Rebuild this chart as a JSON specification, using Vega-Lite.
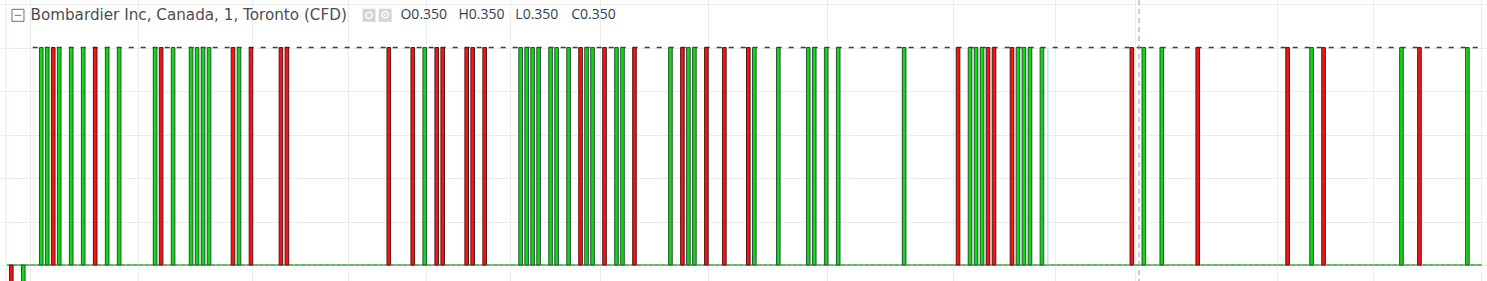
{
  "$schema": "https://vega.github.io/schema/vega-lite/v6.json",
  "width": 1487,
  "height": 281,
  "autosize": "none",
  "padding": 0,
  "background": "#ffffff",
  "config": {"view": {"stroke": null}},
  "datasets": {
    "candles": [
      {"t": 0, "o": 0.345, "c": 0.340}, {"t": 2, "o": 0.340, "c": 0.345},
      {"t": 5, "o": 0.345, "c": 0.35}, {"t": 6, "o": 0.345, "c": 0.35}, {"t": 7, "o": 0.35, "c": 0.345}, {"t": 8, "o": 0.345, "c": 0.35},
      {"t": 10, "o": 0.345, "c": 0.35}, {"t": 12, "o": 0.345, "c": 0.35}, {"t": 14, "o": 0.35, "c": 0.345}, {"t": 16, "o": 0.345, "c": 0.35},
      {"t": 18, "o": 0.345, "c": 0.35}, {"t": 24, "o": 0.345, "c": 0.35}, {"t": 25, "o": 0.35, "c": 0.345}, {"t": 27, "o": 0.345, "c": 0.35},
      {"t": 30, "o": 0.345, "c": 0.35}, {"t": 31, "o": 0.345, "c": 0.35}, {"t": 32, "o": 0.345, "c": 0.35}, {"t": 33, "o": 0.345, "c": 0.35},
      {"t": 37, "o": 0.35, "c": 0.345}, {"t": 38, "o": 0.345, "c": 0.35}, {"t": 40, "o": 0.35, "c": 0.345}, {"t": 45, "o": 0.35, "c": 0.345},
      {"t": 46, "o": 0.35, "c": 0.345}, {"t": 63, "o": 0.35, "c": 0.345}, {"t": 67, "o": 0.35, "c": 0.345}, {"t": 69, "o": 0.345, "c": 0.35},
      {"t": 71, "o": 0.35, "c": 0.345}, {"t": 72, "o": 0.35, "c": 0.345}, {"t": 76, "o": 0.35, "c": 0.345}, {"t": 77, "o": 0.35, "c": 0.345},
      {"t": 79, "o": 0.35, "c": 0.345}, {"t": 85, "o": 0.345, "c": 0.35}, {"t": 86, "o": 0.345, "c": 0.35}, {"t": 87, "o": 0.345, "c": 0.35},
      {"t": 88, "o": 0.345, "c": 0.35}, {"t": 90, "o": 0.345, "c": 0.35}, {"t": 91, "o": 0.345, "c": 0.35}, {"t": 93, "o": 0.345, "c": 0.35},
      {"t": 95, "o": 0.35, "c": 0.345}, {"t": 96, "o": 0.345, "c": 0.35}, {"t": 97, "o": 0.345, "c": 0.35}, {"t": 99, "o": 0.35, "c": 0.345},
      {"t": 101, "o": 0.345, "c": 0.35}, {"t": 102, "o": 0.345, "c": 0.35}, {"t": 104, "o": 0.35, "c": 0.345}, {"t": 110, "o": 0.345, "c": 0.35},
      {"t": 112, "o": 0.35, "c": 0.345}, {"t": 113, "o": 0.345, "c": 0.35}, {"t": 114, "o": 0.345, "c": 0.35}, {"t": 116, "o": 0.35, "c": 0.345},
      {"t": 119, "o": 0.35, "c": 0.345}, {"t": 123, "o": 0.35, "c": 0.345}, {"t": 124, "o": 0.345, "c": 0.35}, {"t": 128, "o": 0.345, "c": 0.35},
      {"t": 133, "o": 0.345, "c": 0.35}, {"t": 134, "o": 0.345, "c": 0.35}, {"t": 136, "o": 0.345, "c": 0.35}, {"t": 138, "o": 0.345, "c": 0.35},
      {"t": 149, "o": 0.345, "c": 0.35}, {"t": 158, "o": 0.35, "c": 0.345}, {"t": 160, "o": 0.345, "c": 0.35}, {"t": 161, "o": 0.345, "c": 0.35},
      {"t": 162, "o": 0.345, "c": 0.35}, {"t": 163, "o": 0.35, "c": 0.345}, {"t": 164, "o": 0.35, "c": 0.345}, {"t": 167, "o": 0.35, "c": 0.345},
      {"t": 168, "o": 0.345, "c": 0.35}, {"t": 169, "o": 0.345, "c": 0.35}, {"t": 170, "o": 0.345, "c": 0.35}, {"t": 172, "o": 0.345, "c": 0.35},
      {"t": 187, "o": 0.35, "c": 0.345}, {"t": 189, "o": 0.345, "c": 0.35}, {"t": 192, "o": 0.345, "c": 0.35}, {"t": 198, "o": 0.35, "c": 0.345},
      {"t": 213, "o": 0.35, "c": 0.345}, {"t": 217, "o": 0.345, "c": 0.35}, {"t": 219, "o": 0.35, "c": 0.345}, {"t": 232, "o": 0.345, "c": 0.35},
      {"t": 235, "o": 0.35, "c": 0.345}, {"t": 243, "o": 0.345, "c": 0.35}
    ]
  },
  "layer": [
    {
      "data": {"values": [{}]},
      "mark": {"type": "rect", "color": "#f1f4f9"},
      "encoding": {
        "x": {"datum": -1.05, "type": "quantitative", "scale": {"domain": [-1.05, 245.44], "nice": false, "zero": false},
              "axis": {"values": [3.2, 21.17, 40.25, 56.17, 69.15, 83.17, 98.2, 116.25, 136.2, 157.18, 174.2, 187.45, 211.18, 227.18, 245.28],
                       "grid": true, "gridColor": "#ececec", "labels": false, "ticks": false, "domain": false, "title": null}},
        "x2": {"datum": -0.7167},
        "y": {"datum": 0.3446322, "type": "quantitative", "scale": {"domain": [0.3446322, 0.351092], "nice": false, "zero": false},
              "axis": {"values": [0.345, 0.346, 0.347, 0.348, 0.349, 0.35, 0.351], "grid": true, "gridColor": "#ececec", "labels": false, "ticks": false, "domain": false, "title": null}},
        "y2": {"datum": 0.351092}
      }
    },
    {
      "data": {"values": [{}]},
      "mark": {"type": "rule", "color": "#3e6a48", "strokeWidth": 1},
      "encoding": {
        "x": {"datum": -0.7167, "type": "quantitative"},
        "x2": {"datum": 245.44},
        "y": {"datum": 0.345, "type": "quantitative"}
      }
    },
    {
      "data": {"values": [{}]},
      "mark": {"type": "rule", "color": "#1ecb1e", "strokeWidth": 1.2, "strokeDash": [4, 2]},
      "encoding": {
        "x": {"datum": -0.7167, "type": "quantitative"},
        "x2": {"datum": 245.44},
        "y": {"datum": 0.345, "type": "quantitative"}
      }
    },
    {
      "data": {"values": [{}]},
      "mark": {"type": "rule", "color": "#1f4f35", "strokeWidth": 1.3, "strokeDash": [5, 7]},
      "encoding": {
        "x": {"datum": 3.567, "type": "quantitative"},
        "x2": {"datum": 245.44},
        "y": {"datum": 0.35, "type": "quantitative"}
      }
    },
    {
      "data": {"values": [{}]},
      "mark": {"type": "rule", "color": "#a9d4d8", "strokeWidth": 1},
      "encoding": {
        "x": {"datum": 173, "type": "quantitative"},
        "y": {"datum": 0.345, "type": "quantitative"},
        "y2": {"datum": 0.35}
      }
    },
    {
      "data": {"name": "candles"},
      "mark": {"type": "bar", "size": 3.6, "strokeWidth": 1, "clip": true},
      "encoding": {
        "x": {"field": "t", "type": "quantitative"},
        "y": {"field": "o", "type": "quantitative"},
        "y2": {"field": "c"},
        "fill": {"condition": {"test": "datum.c > datum.o", "value": "#12d812"}, "value": "#f91212"},
        "stroke": {"condition": {"test": "datum.c > datum.o", "value": "#26523a"}, "value": "#4f1a1a"}
      }
    },
    {
      "data": {"values": [{}]},
      "mark": {"type": "rule", "color": "#9b9b9b", "strokeWidth": 1, "strokeDash": [5, 4]},
      "encoding": {
        "x": {"datum": 188.2, "type": "quantitative"}
      }
    },
    {
      "data": {"values": [{}]},
      "mark": {"type": "point", "shape": "M-1,-1H1V1H-1Z M-0.55,0H0.55", "size": 144, "filled": false, "stroke": "#707070", "strokeWidth": 1, "opacity": 1},
      "encoding": {
        "x": {"datum": 1.117, "type": "quantitative"},
        "y": {"datum": 0.35074, "type": "quantitative"}
      }
    },
    {
      "data": {"values": [{}]},
      "mark": {"type": "text", "align": "left", "baseline": "middle", "font": "DejaVu Sans", "fontSize": 15.2, "color": "#4d4d4d"},
      "encoding": {
        "x": {"datum": 3.2, "type": "quantitative"},
        "y": {"datum": 0.350736, "type": "quantitative"},
        "text": {"value": "Bombardier Inc, Canada, 1, Toronto (CFD)"}
      }
    },
    {
      "data": {"values": [{}]},
      "mark": {"type": "point", "shape": "square", "size": 169, "filled": true, "color": "#d4d4d4", "opacity": 1},
      "encoding": {
        "x": {"datum": 59.7, "type": "quantitative"},
        "y": {"datum": 0.35074, "type": "quantitative"}
      }
    },
    {
      "data": {"values": [{}]},
      "mark": {"type": "point", "shape": "square", "size": 169, "filled": true, "color": "#d4d4d4", "opacity": 1},
      "encoding": {
        "x": {"datum": 62.4, "type": "quantitative"},
        "y": {"datum": 0.35074, "type": "quantitative"}
      }
    },
    {
      "data": {"values": [{}]},
      "mark": {"type": "point", "shape": "circle", "size": 40, "filled": false, "stroke": "#ffffff", "strokeWidth": 1.5, "opacity": 1},
      "encoding": {
        "x": {"datum": 59.7, "type": "quantitative"},
        "y": {"datum": 0.35074, "type": "quantitative"}
      }
    },
    {
      "data": {"values": [{}]},
      "mark": {"type": "text", "align": "center", "baseline": "middle", "font": "DejaVu Sans", "fontSize": 12, "color": "#ffffff"},
      "encoding": {
        "x": {"datum": 62.4, "type": "quantitative"},
        "y": {"datum": 0.35074, "type": "quantitative"},
        "text": {"value": "⚙"}
      }
    },
    {
      "data": {"values": [{}]},
      "mark": {"type": "text", "align": "left", "baseline": "middle", "font": "Open Sans", "fontSize": 14, "color": "#2e4356"},
      "encoding": {
        "x": {"datum": 64.95, "type": "quantitative"},
        "y": {"datum": 0.350736, "type": "quantitative"},
        "text": {"value": "O0.350"}
      }
    },
    {
      "data": {"values": [{}]},
      "mark": {"type": "text", "align": "left", "baseline": "middle", "font": "Open Sans", "fontSize": 14, "color": "#2e4356"},
      "encoding": {
        "x": {"datum": 74.62, "type": "quantitative"},
        "y": {"datum": 0.350736, "type": "quantitative"},
        "text": {"value": "H0.350"}
      }
    },
    {
      "data": {"values": [{}]},
      "mark": {"type": "text", "align": "left", "baseline": "middle", "font": "Open Sans", "fontSize": 14, "color": "#2e4356"},
      "encoding": {
        "x": {"datum": 84.12, "type": "quantitative"},
        "y": {"datum": 0.350736, "type": "quantitative"},
        "text": {"value": "L0.350"}
      }
    },
    {
      "data": {"values": [{}]},
      "mark": {"type": "text", "align": "left", "baseline": "middle", "font": "Open Sans", "fontSize": 14, "color": "#2e4356"},
      "encoding": {
        "x": {"datum": 93.45, "type": "quantitative"},
        "y": {"datum": 0.350736, "type": "quantitative"},
        "text": {"value": "C0.350"}
      }
    }
  ]
}
